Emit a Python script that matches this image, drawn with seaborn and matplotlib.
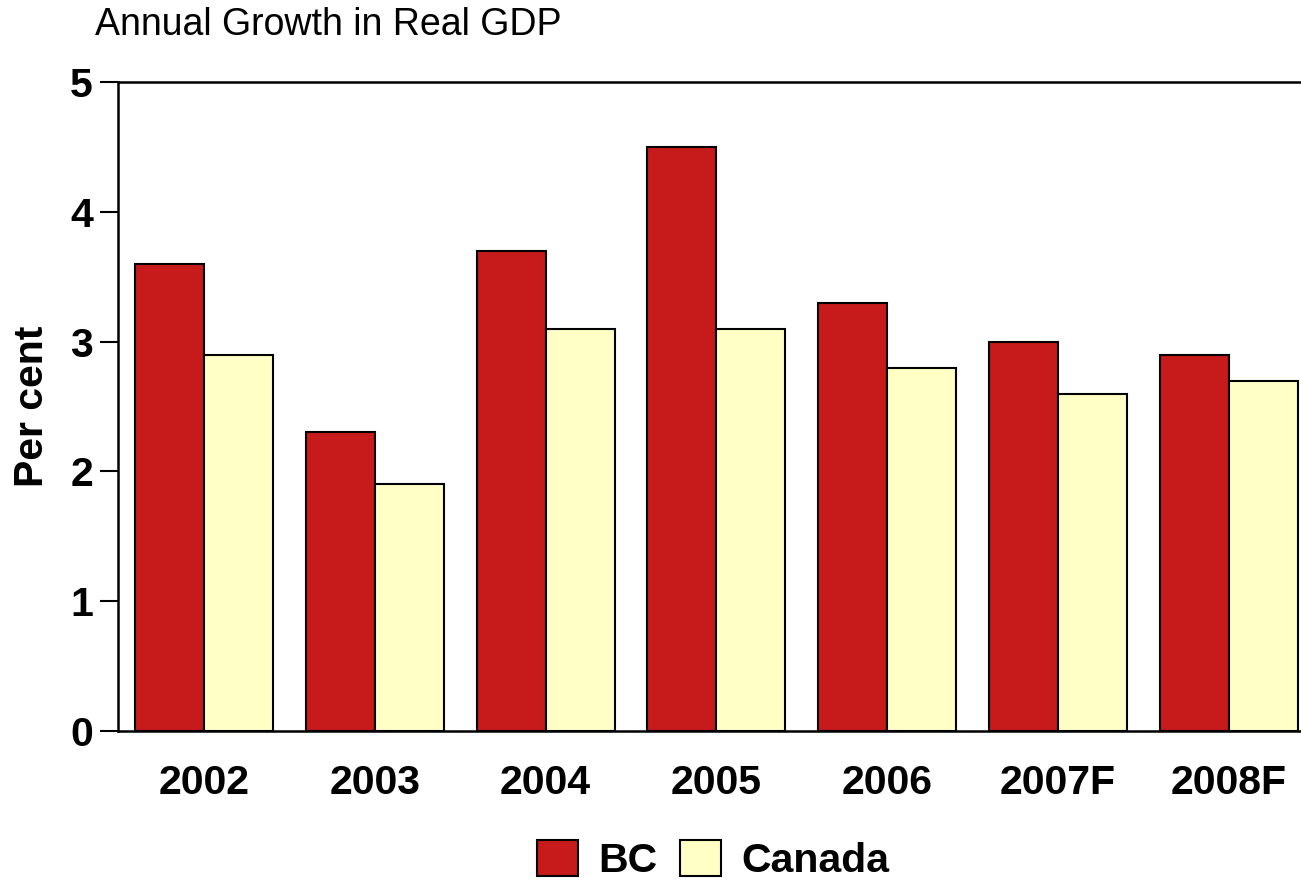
import matplotlib
matplotlib.use("Agg")
import matplotlib.pyplot as plt
import seaborn as sns
import pandas as pd
from matplotlib.patches import Patch

years = ["2002", "2003", "2004", "2005", "2006", "2007F", "2008F"]
bc = [3.6, 2.3, 3.7, 4.5, 3.3, 3.0, 2.9]
canada = [2.9, 1.9, 3.1, 3.1, 2.8, 2.6, 2.7]
series = ["BC", "Canada"]
colors = {"BC": "#C71A1A", "Canada": "#FFFFC6"}
yticks = [0, 1, 2, 3, 4, 5]

df = pd.DataFrame({
    "Year": years * 2,
    "Series": ["BC"] * len(years) + ["Canada"] * len(years),
    "Value": bc + canada,
})

sns.set_theme(style="white")
plt.rcParams["font.family"] = ["Liberation Sans", "DejaVu Sans"]
plt.rcParams["text.color"] = "black"
plt.rcParams["axes.labelcolor"] = "black"
plt.rcParams["xtick.color"] = "black"
plt.rcParams["ytick.color"] = "black"

fig = plt.figure(figsize=(13.01, 8.83), dpi=100)
ax = fig.add_axes([118 / 1301, 1 - 731 / 883, 1182 / 1301, 649 / 883])

sns.barplot(data=df, x="Year", y="Value", hue="Series", order=years,
            hue_order=series, palette=colors, saturation=1, width=0.808,
            edgecolor="black", linewidth=1.5, ax=ax, legend=False)

ax.set_xlim(-0.5035, 6.417)
ax.set_ylim(0, 5)
ax.set_yticks(yticks)
ax.set_yticklabels([str(t) for t in yticks], fontsize=29.5, fontweight="bold", color="black")
ax.tick_params(axis="y", direction="out", length=13, width=1.5, pad=5, left=True, colors="black")
ax.tick_params(axis="x", length=0, pad=24, labelsize=29.5, labelcolor="black")
for lbl in ax.get_xticklabels():
    lbl.set_fontweight("bold")
ax.set_xlabel("")
ax.set_ylabel("Per cent", fontsize=29.5, fontweight="bold", labelpad=14, color="black")

for s in ["left", "bottom", "top"]:
    ax.spines[s].set_visible(True)
    ax.spines[s].set_color("black")
    ax.spines[s].set_linewidth(1.8)
ax.spines["right"].set_visible(False)

fig.text(95 / 1301, 1 - 25 / 883, "Annual Growth in Real GDP", fontsize=27,
         va="center", ha="left", color="black")

handles = [Patch(facecolor=colors[s], edgecolor="black", linewidth=1.5, label=s) for s in series]
fig.legend(handles=handles, loc="center", bbox_to_anchor=(713 / 1301, 1 - 860 / 883),
           ncol=2, frameon=False, handlelength=1.0, handleheight=1.0,
           handletextpad=0.5, columnspacing=0.55, labelcolor="black",
           prop={"size": 29.5, "weight": "bold"})

fig.savefig("out.png", dpi=100)
